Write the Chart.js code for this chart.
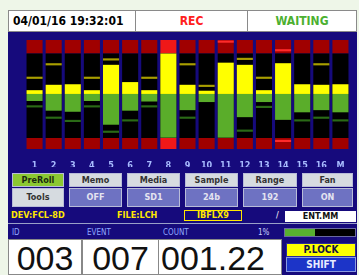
<!DOCTYPE html>
<html>
<head>
<meta charset="utf-8">
<script src="https://cdn.jsdelivr.net/npm/chart.js@4/dist/chart.umd.min.js"></script>
<style>
    body { margin: 0; background: #eef6e8; width: 359px; height: 275px; overflow: hidden; position: relative; font-family: "DejaVu Sans Condensed", "DejaVu Sans", sans-serif; }
    .abs { position: absolute; box-sizing: border-box; }
    .hdr { top: 10px; height: 22px; background: #fff; border: 1px solid #8a8a8a; font-weight: bold; font-size: 12px; line-height: 20px; text-align: center; }
    .screen { left: 8px; top: 32px; width: 349px; height: 243px; background: #160a7c; }
    .btn { height: 14px; font-size: 9px; font-weight: bold; line-height: 13px; text-align: center; border: 1px solid #b8bcd8; }
    .r1 { top: 173px; background: #d6dbe0; color: #333; }
    .r2 { top: 188px; height: 19px; line-height: 17px; background: #6e72c2; color: #e4e4f0; }
    .num { top: 239px; height: 36px; background: #fff; border: 1px solid #888; font-family: "Liberation Sans", Arial, sans-serif; font-size: 34px; line-height: 36px; color: #111; }
    .lbl { top: 228px; font-size: 8px; color: #8fa8ff; line-height: 9px; }
</style>
</head>
<body>
<div class="abs hdr" style="left:8px;width:128px;text-align:left;padding-left:4px;">04/01/16 19:32:01</div>
<div class="abs hdr" style="left:135px;width:113px;color:#ff2020;">REC</div>
<div class="abs hdr" style="left:247px;width:110px;color:#4cb030;">WAITING</div>
<div class="abs screen"></div>

<canvas id="meters" class="abs" width="325" height="127" style="left:25px;top:40px;"></canvas>

<div class="abs btn r1" style="left:12px;width:52px;background:#8cc832;color:#1a2a10;">PreRoll</div>
<div class="abs btn r1" style="left:69px;width:53px;">Memo</div>
<div class="abs btn r1" style="left:127px;width:53px;">Media</div>
<div class="abs btn r1" style="left:185px;width:53px;">Sample</div>
<div class="abs btn r1" style="left:243px;width:54px;">Range</div>
<div class="abs btn r1" style="left:302px;width:51px;">Fan</div>
<div class="abs btn r2" style="left:12px;width:52px;background:#d6dbe0;color:#333;">Tools</div>
<div class="abs btn r2" style="left:69px;width:53px;">OFF</div>
<div class="abs btn r2" style="left:127px;width:53px;">SD1</div>
<div class="abs btn r2" style="left:185px;width:53px;">24b</div>
<div class="abs btn r2" style="left:243px;width:54px;">192</div>
<div class="abs btn r2" style="left:302px;width:51px;">ON</div>

<div class="abs" style="left:11px;top:210px;font-size:9px;font-weight:bold;color:#ffe800;line-height:11px;">DEV:FCL-8D</div>
<div class="abs" style="left:117px;top:210px;font-size:9px;font-weight:bold;color:#ffe800;line-height:11px;">FILE:LCH</div>
<div class="abs" style="left:184px;top:210px;width:58px;height:11px;border:1px solid #ffe800;font-size:9px;font-weight:bold;color:#ffe800;line-height:9px;text-align:center;">IBFLX9</div>
<div class="abs" style="left:276px;top:210px;font-size:9px;color:#fff;line-height:11px;">/</div>
<div class="abs" style="left:285px;top:211px;width:71px;height:11px;background:#fff;font-size:9px;font-weight:bold;color:#111;line-height:11px;text-align:center;">ENT.MM</div>
<div class="abs" style="left:8px;top:223px;width:349px;height:1px;background:#9aa0c8;"></div>

<div class="abs lbl" style="left:12px;">ID</div>
<div class="abs lbl" style="left:87px;">EVENT</div>
<div class="abs lbl" style="left:163px;">COUNT</div>
<div class="abs lbl" style="left:258px;color:#c8d4ff;">1%</div>
<div class="abs" style="left:284px;top:228px;width:72px;height:9px;background:#000;border:1px solid #6a6aa0;"></div>
<div class="abs" style="left:285px;top:229px;width:30px;height:7px;background:#58b030;"></div>

<div class="abs num" style="left:8px;width:74px;text-align:center;">003</div>
<div class="abs num" style="left:82px;width:77px;text-align:center;">007</div>
<div class="abs num" style="left:158px;width:124px;padding-left:2px;">001.22</div>

<div class="abs" style="left:286px;top:243px;width:70px;height:14px;background:#ffff00;border:1px solid #2a2a9a;font-size:10px;font-weight:bold;color:#101040;text-align:center;line-height:12px;">P.LOCK</div>
<div class="abs" style="left:286px;top:257px;width:70px;height:15px;background:#1c34c8;border:1px solid #8a9ae0;font-size:10px;font-weight:bold;color:#e8ecff;text-align:center;line-height:13px;">SHIFT</div>

<script>
// channel names
const channels = ['1', '2', '3', '4', '5', '6', '7', '8', '9', '10', '11', '12', '13', '14', '15', '16', 'M'];
// current levels: yellow goes up from 0, green goes down from 0
const yellowLevel = [7, 17, 18, 7, 54, 22, 7, 75, 17, 6, 58, 54, 7, 57, 18, 17, 18];
const greenLevel = [-13, -31, -33, -13, -57, -31, -14, -81, -30, -15, -81, -43, -15, -48, -34, -30, -34];
// peak hold markers (null = none)
const yellowPeak = [30, 55, null, 30, 64, null, 30, null, 55, 15, 97, 65, 30, 81, null, 55, null];
const greenPeak = [-23, -44, -50, -23, -70, -49, -23, null, -44, null, null, -68, -24, -87, -49, -44, -49];
// over indicator lit
const clipped = [0, 0, 0, 0, 0, 0, 0, 1, 0, 0, 0, 0, 0, 0, 0, 0, 0];

const topRed = 75, bottomBlack = -81.5, scaleMin = -102, scaleMax = 100;

function peakBars(arr) {
    return arr.map(v => v === null ? null : [v - 2, v + 2]);
}
function peakColors(arr, base) {
    return arr.map(v => (v !== null && (v > topRed || v < bottomBlack)) ? '#ff2a2a' : base);
}

const common = { grouped: false, barPercentage: 0.84, categoryPercentage: 1, borderWidth: 0 };

new Chart(document.getElementById('meters'), {
    type: 'bar',
    data: {
        labels: channels,
        datasets: [
            Object.assign({ order: 0, data: peakBars(yellowPeak), backgroundColor: peakColors(yellowPeak, '#a89e00') }, common),
            Object.assign({ order: 0, data: peakBars(greenPeak), backgroundColor: peakColors(greenPeak, '#2a6a16') }, common),
            Object.assign({ order: 1, data: yellowLevel.map(v => [0, v]), backgroundColor: '#ffff00' }, common),
            Object.assign({ order: 1, data: greenLevel.map(v => [v, 0]), backgroundColor: '#5aad2a' }, common),
            Object.assign({ order: 2, data: channels.map(() => [bottomBlack, topRed]), backgroundColor: '#000' }, common),
            Object.assign({ order: 3, data: channels.map(() => [topRed, scaleMax]), backgroundColor: clipped.map(c => c ? '#f01818' : '#a00000') }, common),
            Object.assign({ order: 3, data: channels.map(() => [scaleMin, bottomBlack]), backgroundColor: clipped.map(c => c ? '#f01818' : '#a00000') }, common)
        ]
    },
    options: {
        responsive: false,
        animation: false,
        devicePixelRatio: 1,
        layout: { padding: 0 },
        plugins: { legend: { display: false }, tooltip: { enabled: false } },
        scales: {
            x: {
                grid: { display: false },
                border: { display: false },
                ticks: { color: '#a8bcff', font: { size: 9, weight: 'bold', family: 'DejaVu Sans Condensed' }, padding: 3, autoSkip: false, maxRotation: 0 },
                afterFit: function(axis) { axis.height = 18; }
            },
            y: { display: false, min: scaleMin, max: scaleMax }
        }
    }
});
</script>
</body>
</html>
